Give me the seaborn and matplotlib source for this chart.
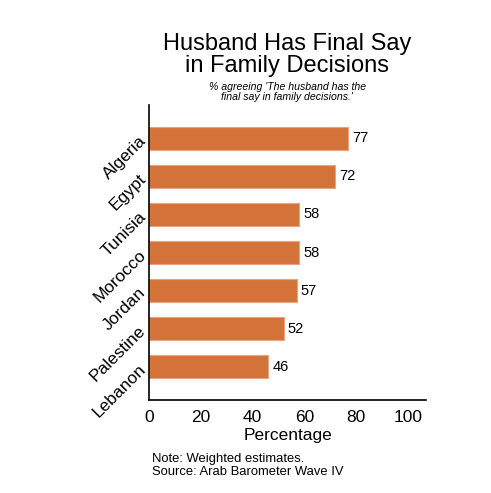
import matplotlib
matplotlib.use("Agg")
import matplotlib.pyplot as plt
import seaborn as sns
import pandas as pd

countries = ["Algeria", "Egypt", "Tunisia", "Morocco", "Jordan", "Palestine", "Lebanon"]
values = [77, 72, 58, 58, 57, 52, 46]
x_ticks = [0, 20, 40, 60, 80, 100]

sns.set_theme(style="white")
plt.rcParams["font.family"] = ["Liberation Sans", "DejaVu Sans"]
plt.rcParams["text.color"] = "black"
plt.rcParams["axes.labelcolor"] = "black"
plt.rcParams["xtick.color"] = "black"
plt.rcParams["ytick.color"] = "black"

df = pd.DataFrame({"country": countries, "pct": values})

fig = plt.figure(figsize=(4.91, 4.93), dpi=100)
ax = fig.add_axes([0.3035, 0.1886, 0.5641, 0.5984])

sns.barplot(data=df, y="country", x="pct", orient="h", color="#D3733A",
            saturation=1, width=0.6, edgecolor="#EBA27E", linewidth=0.8, ax=ax)

for i, v in enumerate(values):
    ax.text(v + 1.6, i, f"{v}", va="center", ha="left", fontsize=10.5, color="black")

ax.set_xlim(0, 107)
ax.set_ylim(len(countries) - 0.13, -0.87)
ax.set_xticks(x_ticks)
ax.set_xticklabels([str(t) for t in x_ticks], fontsize=12.5)
ax.set_yticks(range(len(countries)))
ax.set_yticklabels(countries, fontsize=12.5, rotation=45, ha="right", va="center",
                   rotation_mode="anchor")
ax.tick_params(axis="x", direction="out", length=5, width=1, color="black", pad=2)
ax.tick_params(axis="y", length=0, pad=4)
ax.set_xlabel("Percentage", fontsize=12.5, labelpad=2)
ax.set_ylabel("")

for side in ["top", "right"]:
    ax.spines[side].set_visible(False)
for side in ["left", "bottom"]:
    ax.spines[side].set_color("black")
    ax.spines[side].set_linewidth(1.2)

fig.text(0.585, 0.888, "Husband Has Final Say\nin Family Decisions", ha="center",
         va="center", fontsize=17, linespacing=1.0)
fig.text(0.585, 0.813, "% agreeing 'The husband has the\nfinal say in family decisions.'",
         ha="center", va="center", fontsize=7.6, style="italic", linespacing=1.0)
fig.text(0.31, 0.056, "Note: Weighted estimates.\nSource: Arab Barometer Wave IV",
         ha="left", va="center", fontsize=9.4, linespacing=1.05)

fig.savefig("out.png", dpi=100)
